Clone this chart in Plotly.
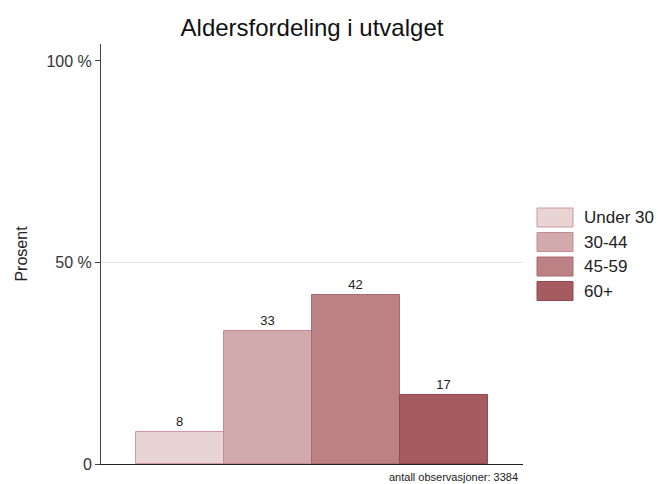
import plotly.graph_objects as go

# Age groups and their share of the sample (percent)
categories = ["Under 30", "30-44", "45-59", "60+"]
values = [8, 33, 42, 17]
fill_colors = ["#e8d3d5", "#d2a9ad", "#bb8185", "#a45c60"]
edge_colors = ["#cf9a9f", "#c48c92", "#aa6a70", "#96484e"]
n_obs = 3384

FONT = "Liberation Sans, Arial, sans-serif"

fig = go.Figure()
for i, (cat, val) in enumerate(zip(categories, values)):
    fig.add_trace(go.Bar(
        x=[i], y=[val], width=1, name=cat,
        marker=dict(color=fill_colors[i], line=dict(color=edge_colors[i], width=1)),
        text=[str(val)], textposition="outside",
        textfont=dict(size=13, color="#222", family=FONT),
        cliponaxis=False, showlegend=False,
    ))

# Legend drawn as swatches with labels to the right of the plot
leg_x0, leg_w, leg_h, leg_top, leg_step = 537, 36, 19, 208, 24.5
W, H = 658, 484
for i, cat in enumerate(categories):
    y0 = leg_top + i * leg_step
    fig.add_shape(type="rect", xref="paper", yref="paper",
                  x0=(leg_x0 - 101) / 422, x1=(leg_x0 + leg_w - 101) / 422,
                  y0=(464 - (y0 + leg_h)) / 420, y1=(464 - y0) / 420,
                  fillcolor=fill_colors[i], line=dict(color=edge_colors[i], width=1))
    fig.add_annotation(xref="paper", yref="paper",
                       x=(leg_x0 + leg_w + 9 - 101) / 422,
                       y=(464 - (y0 + leg_h / 2)) / 420,
                       text=cat, showarrow=False, xanchor="left", yanchor="middle",
                       font=dict(size=17, color="#222", family=FONT))

# Reference line at 50 %
fig.add_shape(type="line", xref="paper", yref="y", x0=0, x1=1, y0=50, y1=50,
              line=dict(color="#e4e4e4", width=1), layer="below")

fig.add_annotation(xref="paper", yref="paper", x=0.993, y=-0.012,
                   text=f"antall observasjoner: {n_obs}", showarrow=False,
                   xanchor="right", yanchor="top",
                   font=dict(size=11, color="#222", family=FONT))

fig.update_layout(
    width=W, height=H,
    margin=dict(l=101, r=135, t=44, b=20),
    paper_bgcolor="white", plot_bgcolor="white",
    barmode="overlay", bargap=0,
    title=dict(text="Aldersfordeling i utvalget", x=(101 + 211) / W, xanchor="center",
               y=1 - 28 / H, yanchor="middle",
               font=dict(size=24, color="#111", family=FONT)),
    font=dict(family=FONT, color="#333"),
    xaxis=dict(range=[-0.9, 3.9], showticklabels=False, ticks="", showgrid=False,
               zeroline=False, showline=True, linecolor="#222", linewidth=1),
    yaxis=dict(range=[0, 104.2], tickvals=[0, 50, 100], ticktext=["0", "50 %", "100 %"],
               ticks="outside", ticklen=5, tickcolor="#444", showgrid=False,
               zeroline=False, showline=True, linecolor="#444", linewidth=1,
               tickfont=dict(size=16, color="#333"),
               title=dict(text="Prosent", font=dict(size=16, color="#222"), standoff=14)),
)

fig.write_html("out.html")
